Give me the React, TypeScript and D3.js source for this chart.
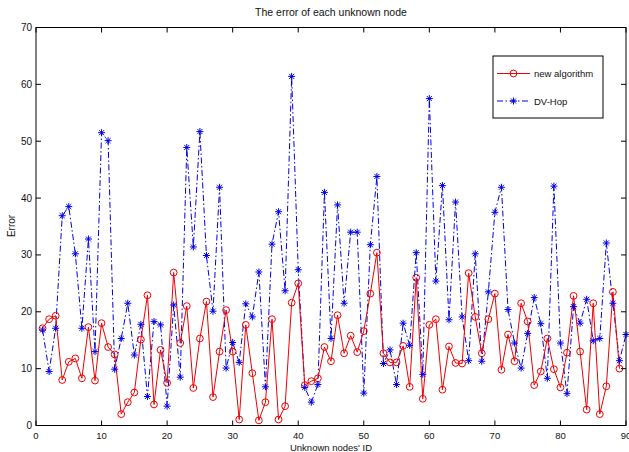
import React from "react";
import * as d3 from "d3";

const newAlgorithm: number[] = [
  17.1, 18.7, 19.3, 8.0, 11.2, 11.8, 8.3, 17.3, 7.9, 18.0,
  13.8, 12.5, 2.0, 4.1, 5.8, 15.1, 22.9, 3.7, 13.3, 7.5,
  26.9, 14.5, 21.0, 6.6, 15.3, 21.8, 5.0, 13.0, 20.3, 13.0,
  1.05, 17.7, 9.2, 0.9, 4.1, 18.7, 1.05, 3.4, 21.6, 25.0,
  7.1, 7.8, 8.3, 13.8, 11.3, 19.4, 12.7, 15.8, 12.9, 16.6,
  23.2, 30.4, 12.7, 11.1, 11.1, 14.0, 6.8, 26.0, 4.7, 17.7,
  18.7, 6.3, 13.9, 11.0, 10.9, 26.8, 19.1, 12.7, 18.7, 23.2,
  9.8, 16.0, 11.3, 21.5, 18.3, 7.1, 9.5, 15.3, 9.9, 6.7,
  12.8, 22.8, 13.0, 2.8, 21.5, 2.0, 6.9, 23.5, 10.0,
];

const dvHop: number[] = [
  16.8, 9.5, 17.1, 36.9, 38.5, 30.2, 17.1, 32.8, 13.0, 51.5,
  50.1, 9.9, 15.3, 21.5, 12.4, 17.8, 5.1, 18.3, 17.7, 3.4,
  21.2, 8.5, 48.9, 31.4, 51.7, 29.9, 20.1, 41.9, 10.1, 14.6,
  11.1, 21.4, 19.1, 27.0, 6.8, 31.9, 37.6, 23.7, 61.4, 27.4,
  6.7, 4.1, 7.2, 41.0, 15.3, 38.8, 21.5, 34.0, 34.0, 5.7,
  31.8, 43.8, 10.9, 13.3, 7.2, 18.0, 14.1, 30.4, 9.0, 57.5,
  25.4, 42.2, 18.6, 39.3, 19.1, 11.4, 30.2, 11.3, 23.5, 37.5,
  41.9, 20.4, 14.5, 10.1, 16.2, 22.5, 17.9, 8.3, 42.1, 14.5,
  5.6, 20.9, 18.0, 22.2, 14.9, 15.3, 32.1, 21.5, 11.4, 16.0,
];

const xTicks: number[] = [0, 10, 20, 30, 40, 50, 60, 70, 80, 90];
const yTicks: number[] = [0, 10, 20, 30, 40, 50, 60, 70];
const seriesNames: string[] = ["new algorithm", "DV-Hop"];
const titleText = "The error of each unknown node";
const xLabel = "Unknown nodes' ID";
const yLabel = "Error";

const W = 629;
const H = 452;
const L = 36, R = 626, T = 27.5, B = 425.5;
const FONT = "'Liberation Sans', Arial, Helvetica, sans-serif";
const RED = "#f00000";
const BLUE = "#0000e8";

function Asterisk({ x, y, s = 3.5 }: { x: number; y: number; s?: number }) {
  const d = s * 0.72;
  return (
    <g stroke={BLUE} strokeWidth={1} fill="none">
      <line x1={x - s} y1={y} x2={x + s} y2={y} />
      <line x1={x} y1={y - s} x2={x} y2={y + s} />
      <line x1={x - d} y1={y - d} x2={x + d} y2={y + d} />
      <line x1={x - d} y1={y + d} x2={x + d} y2={y - d} />
    </g>
  );
}

export default function App() {
  const x = d3.scaleLinear().domain([0, 90]).range([L, R]);
  const y = d3.scaleLinear().domain([0, 70]).range([B, T]);

  const redPts = newAlgorithm.map((v, i) => [x(i + 1), y(v)] as [number, number]);
  const bluePts = dvHop.map((v, i) => [x(i + 1), y(v)] as [number, number]);
  const line = d3.line<[number, number]>().x((d) => d[0]).y((d) => d[1]);

  const tickLen = 5;
  const legX = 493, legY = 56, legW = 110, legH = 62;
  const row1 = 73.5, row2 = 101;

  return (
    <svg
      width={W}
      height={H}
      style={{ position: "absolute", left: 0, top: 0, background: "#fff" }}
      fontFamily={FONT}
    >
      <rect x={0} y={0} width={W} height={H} fill="#fff" />
      <rect x={L} y={T} width={R - L} height={B - T} fill="#fff" />

      {/* data */}
      <path d={line(bluePts) || ""} fill="none" stroke={BLUE} strokeWidth={1} strokeDasharray="6,2.5,1.5,2.5" />
      <path d={line(redPts) || ""} fill="none" stroke={RED} strokeWidth={1} />
      {redPts.map((p, i) => (
        <circle key={"r" + i} cx={p[0]} cy={p[1]} r={3.4} fill="none" stroke={RED} strokeWidth={1} />
      ))}
      {bluePts.map((p, i) => (
        <Asterisk key={"b" + i} x={p[0]} y={p[1]} />
      ))}

      {/* axes box */}
      <rect x={L} y={T} width={R - L} height={B - T} fill="none" stroke="#000" strokeWidth={1} />
      {xTicks.map((t) => (
        <g key={"xt" + t}>
          <line x1={x(t)} x2={x(t)} y1={B} y2={B - tickLen} stroke="#000" />
          <line x1={x(t)} x2={x(t)} y1={T} y2={T + tickLen} stroke="#000" />
          <text x={x(t)} y={438.5} fontSize={9.5} textAnchor="middle" fill="#111">
            {t}
          </text>
        </g>
      ))}
      {yTicks.map((t) => (
        <g key={"yt" + t}>
          <line x1={L} x2={L + tickLen} y1={y(t)} y2={y(t)} stroke="#000" />
          <line x1={R} x2={R - tickLen} y1={y(t)} y2={y(t)} stroke="#000" />
          <text x={32} y={y(t) + 3.5} fontSize={10} textAnchor="end" fill="#111">
            {t}
          </text>
        </g>
      ))}

      {/* labels */}
      <text x={331} y={16} fontSize={10.5} textAnchor="middle" fill="#111">
        {titleText}
      </text>
      <text x={331} y={450.5} fontSize={9.5} textAnchor="middle" fill="#111">
        {xLabel}
      </text>
      <text
        transform={`translate(15,226) rotate(-90)`}
        fontSize={10}
        textAnchor="middle"
        fill="#111"
      >
        {yLabel}
      </text>

      {/* legend */}
      <rect x={legX} y={legY} width={legW} height={legH} fill="#fff" stroke="#000" strokeWidth={1} />
      <line x1={497} x2={530} y1={row1} y2={row1} stroke={RED} strokeWidth={1} />
      <circle cx={513.5} cy={row1} r={3.4} fill="none" stroke={RED} strokeWidth={1} />
      <text x={534} y={row1 + 3.5} fontSize={9.5} fill="#111">
        {seriesNames[0]}
      </text>
      <line x1={497} x2={530} y1={row2} y2={row2} stroke={BLUE} strokeWidth={1} strokeDasharray="6,2.5,1.5,2.5" />
      <Asterisk x={513.5} y={row2} />
      <text x={534} y={row2 + 3.5} fontSize={9.5} fill="#111">
        {seriesNames[1]}
      </text>
    </svg>
  );
}
